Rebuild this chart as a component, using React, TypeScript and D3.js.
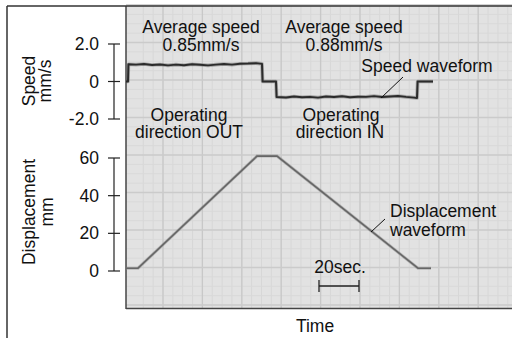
import React from "react";
import * as d3 from "d3";

// time in seconds, speed in mm/s, displacement in mm
const speedTime = [0, 1, 1.2, 5, 9, 13, 17, 21, 25, 29, 33, 37, 41, 45, 49, 53, 57, 61, 65, 68, 68.3, 75, 75.3, 80, 84, 88, 92, 96, 100, 104, 108, 112, 116, 120, 124, 128, 132, 136, 140, 144, 145.5, 145.8, 153.5];
const speedValue = [0, 0, 0.92, 0.9, 0.93, 0.88, 0.91, 0.86, 0.9, 0.87, 0.92, 0.89, 0.86, 0.9, 0.93, 0.9, 0.95, 0.96, 0.98, 0.94, 0, 0, -0.83, -0.85, -0.8, -0.84, -0.82, -0.86, -0.8, -0.83, -0.79, -0.84, -0.81, -0.82, -0.78, -0.83, -0.8, -0.77, -0.82, -0.86, -0.88, 0, 0];

const dispTime = [0, 6, 65.5, 75.5, 146, 152.5];
const dispValue = [1.5, 1.5, 61, 61, 1.5, 1.5];

const speedTicks = [2, 0, -2];
const speedTickLabels = ["2.0", "0", "-2.0"];
const dispTicks = [60, 40, 20, 0];
const dispTickLabels = ["60", "40", "20", "0"];

const W = 512;
const H = 338;
const FONT = "'Liberation Sans', Arial, sans-serif";

const x = d3.scaleLinear().domain([0, 193]).range([126, 512]);
const ySpeed = d3.scaleLinear().domain([-2, 2]).range([119, 44]);
const yDisp = d3.scaleLinear().domain([0, 60]).range([271, 158]);

const App: React.FC = () => {
  const speedLine = d3
    .line<number>()
    .x((_, i) => x(speedTime[i]))
    .y((d) => ySpeed(d));
  const dispLine = d3
    .line<number>()
    .x((_, i) => x(dispTime[i]))
    .y((d) => yDisp(d));

  // chart paper grid
  const majorX = d3.range(18.5, 200, 19.7);
  const minorX = d3.range(8.65, 200, 4.925);
  const majorY = d3.range(5, 308, 37.5);
  const minorY = d3.range(5, 308, 9.375);

  const axisX = 114;
  const txt = { fontFamily: FONT, fontSize: 17.5, fill: "#111" };

  return (
    <svg
      width={W}
      height={H}
      style={{ position: "fixed", left: 0, top: 0, background: "#fff" }}
    >
      {/* plot paper */}
      <rect x={126} y={6} width={W - 126} height={302} fill="#e2e2e2" />
      <g>
        {minorX.map((t, i) => (
          <line key={"mx" + i} x1={x(t)} x2={x(t)} y1={6} y2={308} stroke="#d7d7d7" strokeWidth={1} />
        ))}
        {minorY.map((y, i) => (
          <line key={"my" + i} x1={126} x2={W} y1={y} y2={y} stroke="#d9d9d9" strokeWidth={1} />
        ))}
        {majorX.map((t, i) => (
          <line key={"gx" + i} x1={x(t)} x2={x(t)} y1={6} y2={308} stroke="#c8c8c8" strokeWidth={1.3} />
        ))}
        {majorY.map((y, i) => (
          <line key={"gy" + i} x1={126} x2={W} y1={y} y2={y} stroke="#cbcbcb" strokeWidth={1.3} />
        ))}
      </g>
      <line x1={126} x2={126} y1={6} y2={309} stroke="#444" strokeWidth={1.5} />
      <line x1={126} x2={W} y1={308.5} y2={308.5} stroke="#444" strokeWidth={1.5} />

      {/* outer frame */}
      <line x1={7} x2={W} y1={6} y2={6} stroke="#333" strokeWidth={1.5} />
      <line x1={7} x2={7} y1={6} y2={H} stroke="#333" strokeWidth={1.5} />

      {/* waveforms */}
      <path d={dispLine(dispValue) ?? ""} fill="none" stroke="#8a8a8a" strokeWidth={3} opacity={0.5} />
      <path d={dispLine(dispValue) ?? ""} fill="none" stroke="#666" strokeWidth={1.6} />
      <path d={speedLine(speedValue) ?? ""} fill="none" stroke="#666" strokeWidth={3.6} opacity={0.45} strokeLinejoin="round" />
      <path d={speedLine(speedValue) ?? ""} fill="none" stroke="#2b2b2b" strokeWidth={2} strokeLinejoin="round" />

      {/* speed axis */}
      <line x1={axisX} x2={axisX} y1={ySpeed(2)} y2={ySpeed(-2)} stroke="#222" strokeWidth={1.2} />
      {speedTicks.map((v, i) => (
        <g key={"st" + i}>
          <line x1={axisX - 6} x2={axisX + 6} y1={ySpeed(v)} y2={ySpeed(v)} stroke="#222" strokeWidth={1.2} />
          <text x={99} y={ySpeed(v) + 6} textAnchor="end" {...txt}>
            {speedTickLabels[i]}
          </text>
        </g>
      ))}

      {/* displacement axis */}
      <line x1={axisX} x2={axisX} y1={yDisp(60)} y2={yDisp(0)} stroke="#222" strokeWidth={1.2} />
      {dispTicks.map((v, i) => (
        <g key={"dt" + i}>
          <line x1={axisX - 6} x2={axisX + 6} y1={yDisp(v)} y2={yDisp(v)} stroke="#222" strokeWidth={1.2} />
          <text x={99} y={yDisp(v) + 6} textAnchor="end" {...txt}>
            {dispTickLabels[i]}
          </text>
        </g>
      ))}

      {/* axis titles */}
      <text transform="translate(35,81) rotate(-90)" textAnchor="middle" {...txt}>Speed</text>
      <text transform="translate(51,81) rotate(-90)" textAnchor="middle" {...txt}>mm/s</text>
      <text transform="translate(35,212) rotate(-90)" textAnchor="middle" {...txt}>Displacement</text>
      <text transform="translate(53,212) rotate(-90)" textAnchor="middle" {...txt}>mm</text>
      <text x={315} y={332} textAnchor="middle" {...txt}>Time</text>

      {/* annotations */}
      <text x={201} y={33} textAnchor="middle" {...txt}>Average speed</text>
      <text x={201} y={51} textAnchor="middle" {...txt}>0.85mm/s</text>
      <text x={344} y={33} textAnchor="middle" {...txt}>Average speed</text>
      <text x={344} y={51} textAnchor="middle" {...txt}>0.88mm/s</text>
      <text x={427} y={72} textAnchor="middle" {...txt}>Speed waveform</text>
      <line x1={403} y1={77} x2={381} y2={98} stroke="#111" strokeWidth={1} />
      <text x={189} y={121} textAnchor="middle" {...txt}>Operating</text>
      <text x={189} y={138} textAnchor="middle" {...txt}>direction OUT</text>
      <text x={341} y={121} textAnchor="middle" {...txt}>Operating</text>
      <text x={340} y={138} textAnchor="middle" {...txt}>direction IN</text>
      <text x={390} y={217} {...txt}>Displacement</text>
      <text x={390} y={236} {...txt}>waveform</text>
      <line x1={385} y1={219} x2={371} y2={232} stroke="#111" strokeWidth={1} />

      {/* 20 sec scale bar */}
      <text x={340} y={273} textAnchor="middle" {...txt}>20sec.</text>
      <g stroke="#222" strokeWidth={1.3}>
        <line x1={x(96.5)} x2={x(116.5)} y1={286} y2={286} />
        <line x1={x(96.5)} x2={x(96.5)} y1={280} y2={292} />
        <line x1={x(116.5)} x2={x(116.5)} y1={280} y2={292} />
      </g>
    </svg>
  );
};

export default App;
